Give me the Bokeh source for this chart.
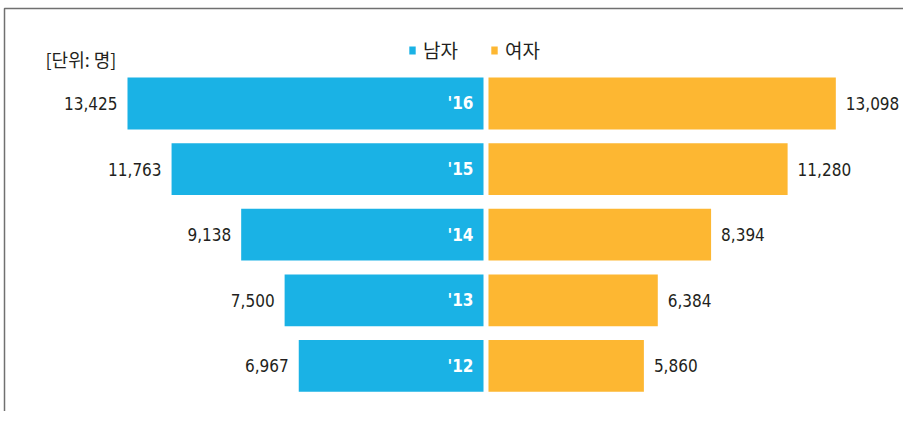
from bokeh.plotting import figure
from bokeh.models import ColumnDataSource, Range1d, Label, Legend, LegendItem, BoxAnnotation
from bokeh.embed import file_html
from bokeh.resources import INLINE
from bokeh.core.properties import value

# ---- data ----
years = ["'16", "'15", "'14", "'13", "'12"]
male = [13425, 11763, 9138, 7500, 6967]
female = [13098, 11280, 8394, 6384, 5860]
series_names = ["남자", "여자"]
unit_label = "[단위: 명]"

# ---- style / layout ----
W, H = 903, 411
BLUE = "#1AB2E5"
ORANGE = "#FDB732"
TEXT = "#231F20"
NUM_FONT = value("DejaVu Sans Condensed, sans-serif")
KR_FONT = "Noto Sans CJK KR"
GAP = 94          # half gap between the two sides, in data units
BAR_H = 0.79
X0, X1 = -18308, 15744
Y0, Y1 = 4.695, -1.570

src = ColumnDataSource(dict(
    y=list(range(len(years))),
    year=years,
    male=male,
    female=female,
    male_left=[-(m + GAP) for m in male],
    male_right=[-GAP] * len(male),
    female_left=[GAP] * len(female),
    female_right=[f + GAP for f in female],
    male_txt=[f"{m:,}" for m in male],
    female_txt=[f"{f:,}" for f in female],
))

p = figure(width=W, height=H, output_backend="svg", toolbar_location=None,
           x_range=Range1d(X0, X1), y_range=Range1d(Y0, Y1),
           x_axis_location=None, y_axis_location=None, min_border=0,
           background_fill_color="white", border_fill_color="white")
p.xgrid.visible = False
p.ygrid.visible = False
p.outline_line_color = None

r_m = p.hbar(y="y", left="male_left", right="male_right", height=BAR_H, source=src,
             fill_color=BLUE, line_color=None)
r_f = p.hbar(y="y", left="female_left", right="female_right", height=BAR_H, source=src,
             fill_color=ORANGE, line_color=None)

# value labels
p.text(x="male_left", y="y", text="male_txt", source=src, x_offset=-10,
       text_align="right", text_baseline="middle", text_color=TEXT,
       text_font=NUM_FONT, text_font_size="17px")
p.text(x="female_right", y="y", text="female_txt", source=src, x_offset=10,
       text_align="left", text_baseline="middle", text_color=TEXT,
       text_font=NUM_FONT, text_font_size="17px")
# year labels inside male bars
p.text(x="male_right", y="y", text="year", source=src, x_offset=-10,
       text_align="right", text_baseline="middle", text_color="white",
       text_font=NUM_FONT, text_font_size="17px", text_font_style="bold")

# legend
legend = Legend(items=[LegendItem(label=series_names[0], renderers=[r_m]),
                       LegendItem(label=series_names[1], renderers=[r_f])],
                orientation="horizontal", location=(408, 348),
                glyph_width=8, glyph_height=10, label_standoff=7, spacing=32,
                padding=0, margin=0, border_line_color=None,
                background_fill_alpha=0, label_text_font=KR_FONT,
                label_text_font_size="19px", label_text_color=TEXT,
                label_height=20)
p.add_layout(legend)

p.add_layout(Label(x=45, y=353, x_units="screen", y_units="screen", text=unit_label,
                   text_font=KR_FONT, text_font_size="18px", text_color=TEXT,
                   text_baseline="middle"))

# frame lines (top and left); right/bottom edges fall outside the canvas
p.add_layout(BoxAnnotation(left=-18157, top=-1.448, right=X1 + 5000, bottom=Y0 + 5,
                           fill_alpha=0, line_color="#707070", line_width=1.5,
                           line_alpha=1))

open("out.html", "w").write(file_html(p, INLINE))
